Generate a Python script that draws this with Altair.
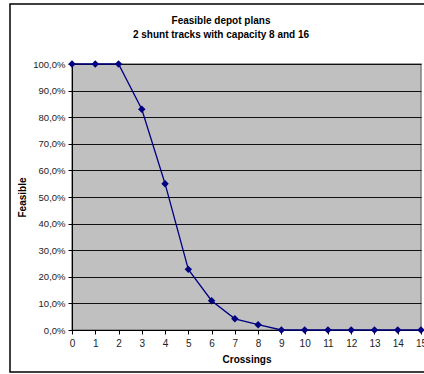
import altair as alt
import pandas as pd

crossings = list(range(16))
feasible = [1.0, 1.0, 1.0, 0.83, 0.55, 0.228, 0.11, 0.042, 0.02, 0.0, 0.0, 0.0, 0.0, 0.0, 0.0, 0.0]
y_ticks = [i / 10 for i in range(11)]
title_lines = ["Feasible depot plans", "2 shunt tracks with capacity 8 and 16"]

df = pd.DataFrame({"Crossings": crossings, "Feasible": feasible})
one = pd.DataFrame({"k": [0]})

FONT = "Liberation Sans"

x = alt.X("Crossings:Q",
          scale=alt.Scale(domain=[0, 15], nice=False),
          axis=alt.Axis(title="Crossings", values=crossings, format="d",
                        grid=False, domainColor="black", tickColor="black",
                        tickSize=4, labelFontSize=10, labelColor="#222",
                        labelFont=FONT, titleFont=FONT, titleFontSize=10,
                        titleFontWeight="bold", titlePadding=6, labelPadding=4,
                        labelFlush=False, titleColor="black"))
y = alt.Y("Feasible:Q",
          scale=alt.Scale(domain=[0, 1], nice=False),
          axis=alt.Axis(title="Feasible", values=y_ticks,
                        labelExpr="replace(format(datum.value, '.1%'), '.', ',')",
                        grid=True, gridColor="#111", gridWidth=1,
                        domainColor="black", tickColor="black", tickSize=4,
                        labelFontSize=9.5, labelColor="#222", labelFont=FONT,
                        titleFont=FONT, titleFontSize=10, titleFontWeight="bold",
                        titlePadding=5, labelPadding=3, titleColor="black"))

frame = alt.Chart(one).mark_rect(fill=None, stroke="black", strokeWidth=1.5).encode(
    x=alt.value(-62), x2=alt.value(380), y=alt.value(-60), y2=alt.value(308))

title1 = alt.Chart(one).mark_text(text=title_lines[0], font=FONT, fontSize=10,
                                  fontWeight="bold", color="black", align="center",
                                  baseline="middle").encode(
    x=alt.value(149), y=alt.value(-43))
title2 = alt.Chart(one).mark_text(text=title_lines[1], font=FONT, fontSize=10,
                                  fontWeight="bold", color="black", align="center",
                                  baseline="middle").encode(
    x=alt.value(149), y=alt.value(-29))

line = alt.Chart(df).mark_line(color="#000080", strokeWidth=1.3,
                               point=alt.OverlayMarkDef(shape="diamond", size=55,
                                                        filled=True, color="#000080")).encode(x=x, y=y)

chart = alt.layer(frame, title1, title2, line).properties(
    width=349, height=266,
    autosize=alt.AutoSizeParams(type="none"),
    padding={"left": 72, "top": 64, "right": 3, "bottom": 44},
    background="white",
).configure_view(fill="#C0C0C0", stroke="#808080", strokeWidth=1.5)

chart.save("out.html", embed_options={"renderer": "svg", "actions": False})
